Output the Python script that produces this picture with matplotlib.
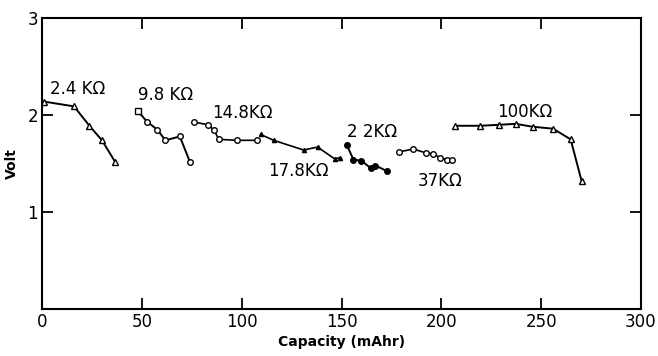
import matplotlib.pyplot as plt

# discharge curves
cap_24k = [0.8, 16, 23.7, 30, 36.5]
volt_24k = [2.14, 2.09, 1.89, 1.74, 1.52]

cap_98k = [48, 52.7, 57.7, 61.8, 69, 74]
volt_98k = [2.04, 1.93, 1.85, 1.74, 1.78, 1.52]

cap_148k = [76, 83, 86, 88.5, 97.7, 107.8]
volt_148k = [1.93, 1.90, 1.85, 1.75, 1.74, 1.74]

cap_178k = [109.5, 116, 131, 138, 146.5, 149]
volt_178k = [1.80, 1.74, 1.64, 1.67, 1.55, 1.56]

cap_22k = [152.7, 156, 160, 164.8, 167, 173]
volt_22k = [1.69, 1.54, 1.53, 1.45, 1.48, 1.42]

cap_37k = [178.7, 186, 192.3, 196, 199.5, 203, 205.3]
volt_37k = [1.62, 1.65, 1.61, 1.60, 1.56, 1.54, 1.54]

cap_100k = [207, 219.5, 229, 237.3, 245.7, 256, 264.8, 270.3]
volt_100k = [1.89, 1.89, 1.90, 1.91, 1.88, 1.86, 1.75, 1.32]

x_ticks = [0, 50, 100, 150, 200, 250, 300]
y_ticks = [0, 1, 2, 3]
y_tick_labels = ['', '1', '2', '3']

fig = plt.figure(figsize=(6.58, 3.56), dpi=100)
ax = fig.add_axes([0.064, 0.132, 0.91, 0.817])

ms = 4
ax.plot(cap_24k, volt_24k, '-', color='black', lw=1.4, marker='^', ms=ms, mfc='white', mec='black')
ax.plot(cap_98k, volt_98k, '-', color='black', lw=1.4, marker='o', ms=ms, mfc='white', mec='black')
ax.plot(cap_98k[:1], volt_98k[:1], 's', ms=ms, mfc='white', mec='black')
ax.plot(cap_148k, volt_148k, '-', color='black', lw=1.2, marker='o', ms=ms, mfc='white', mec='black')
ax.plot(cap_178k, volt_178k, '-', color='black', lw=1.2, marker='^', ms=3, mfc='black', mec='black')
ax.plot(cap_22k, volt_22k, '-', color='black', lw=1.4, marker='o', ms=ms, mfc='black', mec='black')
ax.plot(cap_37k, volt_37k, '-', color='black', lw=1.2, marker='o', ms=ms, mfc='white', mec='black')
ax.plot(cap_100k, volt_100k, '-', color='black', lw=1.4, marker='^', ms=ms, mfc='white', mec='black')

labels = [
    (4, 2.22, '2.4 K\u03a9'),
    (48, 2.16, '9.8 K\u03a9'),
    (85, 1.97, '14.8K\u03a9'),
    (113, 1.37, '17.8K\u03a9'),
    (153, 1.77, '2 2K\u03a9'),
    (188, 1.27, '37K\u03a9'),
    (228, 1.98, '100K\u03a9'),
]
for x, y, t in labels:
    ax.text(x, y, t, fontsize=12, color='black')

ax.set_xlim(0, 300)
ax.set_ylim(0, 3)
ax.set_xticks(x_ticks)
ax.set_yticks(y_ticks)
ax.set_yticklabels(y_tick_labels)
ax.tick_params(direction='in', length=8, width=1.3, labelsize=12,
               top=True, right=True, pad=3)
for s in ax.spines.values():
    s.set_linewidth(1.5)

ax.set_xlabel('Capacity (mAhr)', fontsize=10, fontweight='bold', labelpad=3)
ax.set_ylabel('Volt', fontsize=10, fontweight='bold', labelpad=6)

plt.savefig('out.png', dpi=100)
